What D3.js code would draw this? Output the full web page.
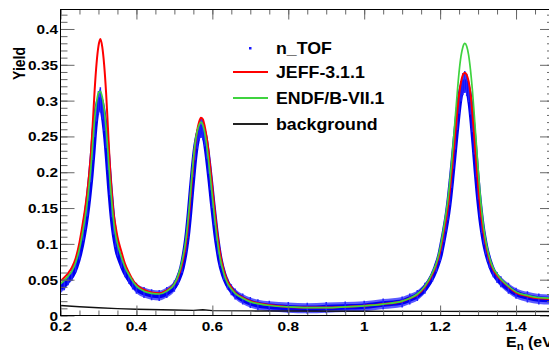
<!DOCTYPE html>
<html>
<head>
<meta charset="utf-8">
<script src="https://cdn.jsdelivr.net/npm/d3@7"></script>
<style>
  body { margin: 0; background: #fff; }
  text { font-family: "Liberation Sans", Arial, sans-serif; font-weight: bold; fill: #000; }
</style>
</head>
<body>
<svg width="549" height="351"></svg>
<script>
// neutron energy grid (eV), finer around the three resonances
const energy = [
  0.20, 0.21, 0.22, 0.23, 0.24, 0.25, 0.26,
  0.265, 0.27, 0.275, 0.28, 0.285, 0.29, 0.295, 0.30, 0.305, 0.31, 0.315, 0.32, 0.325, 0.33, 0.335, 0.34, 0.345,
  0.35, 0.36, 0.37, 0.38, 0.39, 0.40, 0.42, 0.44, 0.46, 0.48, 0.50, 0.51, 0.52, 0.53,
  0.535, 0.54, 0.545, 0.55, 0.555, 0.56, 0.565, 0.57, 0.575, 0.58, 0.585, 0.59, 0.595, 0.60, 0.605, 0.61, 0.615, 0.62,
  0.63, 0.64, 0.65, 0.66, 0.68, 0.70, 0.72, 0.75, 0.80, 0.85, 0.90, 0.95, 1.00, 1.05, 1.10, 1.12, 1.14, 1.16, 1.18, 1.19,
  1.20, 1.205, 1.21, 1.215, 1.22, 1.225, 1.23, 1.235, 1.24, 1.245, 1.25, 1.255, 1.26, 1.265, 1.27, 1.275, 1.28, 1.285, 1.29, 1.295, 1.30, 1.305, 1.31, 1.315, 1.32, 1.325, 1.33,
  1.34, 1.35, 1.36, 1.38, 1.40, 1.43, 1.46, 1.50
];

// n_TOF measured yield and its uncertainty
const ntof = [
  0.039, 0.043, 0.050, 0.056, 0.068, 0.086, 0.112,
  0.128, 0.147, 0.170, 0.196, 0.228, 0.262, 0.285, 0.297, 0.301, 0.290, 0.272, 0.247, 0.214, 0.178, 0.147, 0.122, 0.104,
  0.090, 0.074, 0.061, 0.052, 0.044, 0.038, 0.032, 0.029, 0.028, 0.032, 0.041, 0.051, 0.067, 0.096,
  0.117, 0.144, 0.175, 0.204, 0.229, 0.246, 0.257, 0.262, 0.259, 0.249, 0.232, 0.210, 0.186, 0.160, 0.136, 0.113, 0.094, 0.078,
  0.057, 0.044, 0.036, 0.030, 0.023, 0.018, 0.015, 0.013, 0.011, 0.010, 0.011, 0.012, 0.013, 0.016, 0.019, 0.023, 0.028, 0.038, 0.055, 0.068,
  0.085, 0.098, 0.112, 0.127, 0.144, 0.165, 0.190, 0.217, 0.245, 0.272, 0.296, 0.313, 0.323, 0.326, 0.322, 0.312, 0.295, 0.269, 0.238, 0.205, 0.174, 0.148, 0.126, 0.109, 0.095, 0.084, 0.075,
  0.061, 0.053, 0.047, 0.038, 0.031, 0.026, 0.023, 0.022
];
const ntofErr = [
  0.007, 0.007, 0.007, 0.007, 0.007, 0.007, 0.007,
  0.008, 0.008, 0.009, 0.009, 0.010, 0.012, 0.013, 0.015, 0.016, 0.015, 0.013, 0.012, 0.010, 0.009, 0.009, 0.008, 0.008,
  0.007, 0.007, 0.007, 0.007, 0.007, 0.007, 0.007, 0.007, 0.007, 0.007, 0.007, 0.007, 0.007, 0.007,
  0.008, 0.008, 0.009, 0.010, 0.011, 0.012, 0.012, 0.013, 0.013, 0.012, 0.012, 0.011, 0.010, 0.009, 0.009, 0.008, 0.008, 0.008,
  0.007, 0.007, 0.007, 0.007, 0.007, 0.007, 0.007, 0.007, 0.007, 0.007, 0.007, 0.007, 0.007, 0.007, 0.007, 0.007, 0.007, 0.007, 0.007, 0.007,
  0.008, 0.008, 0.009, 0.009, 0.010, 0.010, 0.011, 0.011, 0.012, 0.012, 0.013, 0.013, 0.014, 0.014, 0.014, 0.013, 0.013, 0.012, 0.012, 0.011, 0.011, 0.010, 0.010, 0.009, 0.009, 0.008, 0.008,
  0.007, 0.007, 0.007, 0.007, 0.007, 0.007, 0.007, 0.007
];

// evaluated-library yields
const jeff = [
  0.048, 0.053, 0.059, 0.067, 0.080, 0.102, 0.133,
  0.150, 0.170, 0.195, 0.225, 0.268, 0.315, 0.352, 0.376, 0.386, 0.375, 0.350, 0.312, 0.262, 0.210, 0.172, 0.142, 0.125,
  0.110, 0.090, 0.072, 0.060, 0.050, 0.043, 0.036, 0.032, 0.031, 0.035, 0.044, 0.054, 0.071, 0.099,
  0.121, 0.150, 0.182, 0.214, 0.240, 0.258, 0.270, 0.276, 0.274, 0.264, 0.249, 0.228, 0.204, 0.178, 0.152, 0.128, 0.106, 0.088,
  0.063, 0.048, 0.039, 0.032, 0.025, 0.020, 0.017, 0.0145, 0.012, 0.011, 0.011, 0.012, 0.0135, 0.016, 0.020, 0.024, 0.029, 0.040, 0.058, 0.071,
  0.090, 0.103, 0.118, 0.133, 0.150, 0.172, 0.198, 0.226, 0.255, 0.284, 0.308, 0.326, 0.336, 0.339, 0.336, 0.327, 0.310, 0.283, 0.250, 0.215, 0.182, 0.155, 0.132, 0.114, 0.100, 0.088, 0.078,
  0.064, 0.056, 0.050, 0.040, 0.032, 0.027, 0.024, 0.023
];
const endf = [
  0.044, 0.049, 0.055, 0.062, 0.074, 0.093, 0.121,
  0.137, 0.156, 0.180, 0.206, 0.240, 0.275, 0.298, 0.311, 0.313, 0.305, 0.288, 0.262, 0.228, 0.190, 0.158, 0.131, 0.113,
  0.100, 0.082, 0.067, 0.057, 0.048, 0.041, 0.034, 0.031, 0.030, 0.034, 0.044, 0.056, 0.075, 0.105,
  0.128, 0.156, 0.188, 0.218, 0.242, 0.257, 0.266, 0.270, 0.266, 0.255, 0.238, 0.216, 0.192, 0.166, 0.141, 0.118, 0.098, 0.081,
  0.059, 0.045, 0.037, 0.031, 0.024, 0.019, 0.0165, 0.014, 0.012, 0.011, 0.011, 0.012, 0.0135, 0.016, 0.020, 0.024, 0.030, 0.041, 0.060, 0.073,
  0.094, 0.108, 0.124, 0.141, 0.160, 0.184, 0.212, 0.244, 0.277, 0.310, 0.340, 0.362, 0.375, 0.380, 0.376, 0.364, 0.343, 0.315, 0.280, 0.243, 0.205, 0.172, 0.144, 0.122, 0.105, 0.092, 0.081,
  0.066, 0.058, 0.051, 0.041, 0.033, 0.028, 0.025, 0.024
];

// background estimate
const bgEnergy = [0.20, 0.25, 0.30, 0.35, 0.40, 0.50, 0.55, 0.575, 0.60, 0.70, 0.80, 1.00, 1.20, 1.50];
const bgYield  = [0.0140, 0.0122, 0.0108, 0.0096, 0.0087, 0.0076, 0.0072, 0.0080, 0.0068, 0.0064, 0.0062, 0.0060, 0.0058, 0.0056];

const yTickValues = [0, 0.05, 0.1, 0.15, 0.2, 0.25, 0.3, 0.35, 0.4];
const yTickLabels = ['0', '0.05', '0.1', '0.15', '0.2', '0.25', '0.3', '0.35', '0.4'];
const xTickValues = [0.2, 0.4, 0.6, 0.8, 1, 1.2, 1.4];
const xTickLabels = ['0.2', '0.4', '0.6', '0.8', '1', '1.2', '1.4'];

const legendLabels = ['n_TOF', 'JEFF-3.1.1', 'ENDF/B-VII.1', 'background'];
const legendColors = ['#1a1aff', '#ff0000', '#3fd33f', '#222'];

const svg = d3.select('svg');
const width = +svg.attr('width');
const height = +svg.attr('height');

const frameL = 60.5, frameR = 554, frameT = 9.5, frameB = 315.5;
const stretch = 1.14; // glyphs in the picture are a bit wide

const x = d3.scaleLinear().domain([0.2, 1.5]).range([frameL, frameR]);
const y = d3.scaleLinear().domain([0, 0.4272]).range([frameB, frameT]);

svg.append('clipPath').attr('id', 'frame')
  .append('rect')
    .attr('x', frameL).attr('y', frameT)
    .attr('width', frameR - frameL).attr('height', frameB - frameT);

const plot = svg.append('g').attr('clip-path', 'url(#frame)');

// n_TOF points: error band + thick core line
const idx = d3.range(energy.length);
plot.append('path')
  .datum(idx)
  .attr('fill', '#5b5bff')
  .attr('d', d3.area()
    .x(i => x(energy[i]))
    .y0(i => y(ntof[i] - ntofErr[i]))
    .y1(i => y(ntof[i] + ntofErr[i]))
    .curve(d3.curveMonotoneX));

plot.append('path')
  .datum(idx)
  .attr('fill', 'none')
  .attr('stroke', '#0000f0')
  .attr('stroke-width', 5.5)
  .attr('d', d3.line()
    .x(i => x(energy[i]))
    .y(i => y(ntof[i]))
    .curve(d3.curveMonotoneX));

// little error bars for texture
plot.append('g').selectAll('line').data(idx)
  .enter().append('line')
    .attr('x1', i => x(energy[i]))
    .attr('x2', i => x(energy[i]))
    .attr('y1', i => y(ntof[i] - ntofErr[i] * 1.1))
    .attr('y2', i => y(ntof[i] + ntofErr[i] * 1.1))
    .attr('stroke', '#2323ff')
    .attr('stroke-width', 1.5);

const line = values => d3.line()
  .x(i => x(energy[i]))
  .y(i => y(values[i]))
  .curve(d3.curveMonotoneX);

plot.append('path').datum(idx)
  .attr('fill', 'none').attr('stroke', '#ff0000').attr('stroke-width', 2)
  .attr('d', line(jeff));

plot.append('path').datum(idx)
  .attr('fill', 'none').attr('stroke', '#3fd33f').attr('stroke-width', 1.7)
  .attr('d', line(endf));

plot.append('path').datum(d3.range(bgEnergy.length))
  .attr('fill', 'none').attr('stroke', '#111').attr('stroke-width', 1.4)
  .attr('d', d3.line()
    .x(i => x(bgEnergy[i]))
    .y(i => y(bgYield[i])));

// axes: ticks pointing inward, mirrored on top and right
const tickColor = '#666';
const styleAxis = g => {
  g.select('.domain').remove();
  g.selectAll('line').attr('stroke', tickColor);
};

const yMinor = d3.range(0, 0.4201, 0.01);
const xMinor = d3.range(0.2, 1.5001, 0.05);

svg.append('g').attr('transform', `translate(${frameL},0)`)
  .call(d3.axisLeft(y).tickValues(yMinor).tickSize(-7).tickFormat('')).call(styleAxis);
svg.append('g').attr('transform', `translate(${frameL},0)`)
  .call(d3.axisLeft(y).tickValues(yTickValues).tickSize(-14).tickFormat('')).call(styleAxis);
svg.append('g').attr('transform', `translate(${frameR},0)`)
  .call(d3.axisRight(y).tickValues(yMinor).tickSize(-7).tickFormat('')).call(styleAxis);
svg.append('g').attr('transform', `translate(${frameR},0)`)
  .call(d3.axisRight(y).tickValues(yTickValues).tickSize(-14).tickFormat('')).call(styleAxis);

svg.append('g').attr('transform', `translate(0,${frameB})`)
  .call(d3.axisBottom(x).tickValues(xMinor).tickSize(-5).tickFormat('')).call(styleAxis);
svg.append('g').attr('transform', `translate(0,${frameB})`)
  .call(d3.axisBottom(x).tickValues(xTickValues).tickSize(-10).tickFormat('')).call(styleAxis);
svg.append('g').attr('transform', `translate(0,${frameT})`)
  .call(d3.axisTop(x).tickValues(xMinor).tickSize(-5).tickFormat('')).call(styleAxis);
svg.append('g').attr('transform', `translate(0,${frameT})`)
  .call(d3.axisTop(x).tickValues(xTickValues).tickSize(-10).tickFormat('')).call(styleAxis);

// frame
svg.append('rect')
  .attr('x', frameL).attr('y', frameT)
  .attr('width', frameR - frameL).attr('height', frameB - frameT)
  .attr('fill', 'none').attr('stroke', '#000').attr('stroke-width', 1);

// tick labels
svg.append('g').selectAll('text').data(yTickValues)
  .enter().append('text')
    .attr('transform', d => `translate(58,${y(d) + 5}) scale(${stretch},1)`)
    .attr('text-anchor', 'end')
    .attr('font-size', 13.5)
    .text((d, i) => yTickLabels[i]);

svg.append('g').selectAll('text').data(xTickValues)
  .enter().append('text')
    .attr('transform', d => `translate(${x(d)},330.5) scale(${stretch},1)`)
    .attr('text-anchor', 'middle')
    .attr('font-size', 13.5)
    .text((d, i) => xTickLabels[i]);

// axis titles
svg.append('text')
  .attr('transform', `translate(25,47) scale(${stretch},1) rotate(-90)`)
  .attr('text-anchor', 'end')
  .attr('font-size', 14)
  .text('Yield');

const xTitle = svg.append('text')
  .attr('transform', `translate(506,346.5) scale(${stretch},1)`)
  .attr('font-size', 14);
xTitle.append('tspan').text('E');
xTitle.append('tspan').attr('font-size', 10).attr('dy', 3).text('n');
xTitle.append('tspan').attr('dy', -3).text(' (eV)');

// legend
const legendY = [48, 72, 98, 124];
const legend = svg.append('g');
legendLabels.forEach((label, i) => {
  if (i === 0) {
    legend.append('rect')
      .attr('x', 249).attr('y', legendY[i] - 1)
      .attr('width', 2.5).attr('height', 2.5)
      .attr('fill', legendColors[i]);
  } else {
    legend.append('line')
      .attr('x1', 233).attr('x2', 268)
      .attr('y1', legendY[i]).attr('y2', legendY[i])
      .attr('stroke', legendColors[i])
      .attr('stroke-width', 1.8);
  }
  legend.append('text')
    .attr('transform', `translate(276,${legendY[i] + 6}) scale(1.11,1)`)
    .attr('font-size', 16)
    .text(label);
});
</script>
</body>
</html>
